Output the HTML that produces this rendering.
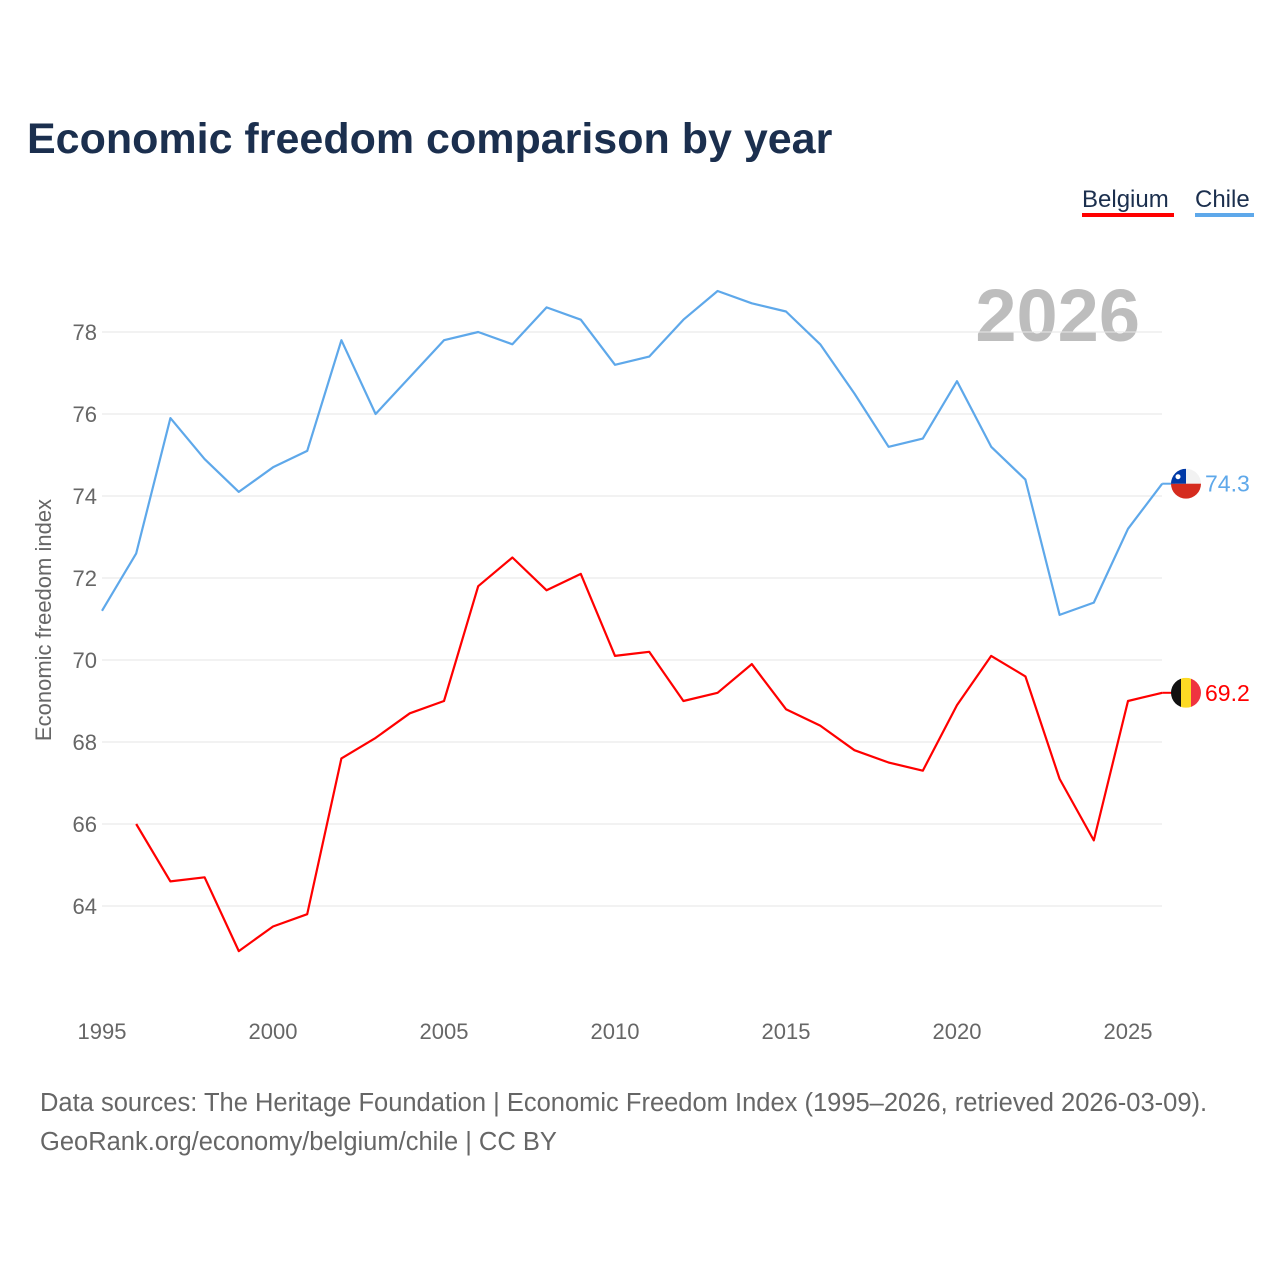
<!DOCTYPE html>
<html><head><meta charset="utf-8"><style>
body{margin:0;background:#fff;font-family:"Liberation Sans",sans-serif;}
svg text{font-family:"Liberation Sans",sans-serif;}
</style></head><body>
<svg width="1280" height="1280" viewBox="0 0 1280 1280">
<rect width="1280" height="1280" fill="#fff"/>
<text x="27" y="153" font-size="43" font-weight="bold" fill="#1b2f4e">Economic freedom comparison by year</text>
<g>
<text x="1082" y="207" font-size="24" fill="#1b2f4e">Belgium</text>
<rect x="1082" y="213" width="92" height="4" fill="#f00"/>
<text x="1195" y="207" font-size="24" fill="#1b2f4e">Chile</text>
<rect x="1195" y="213" width="59" height="4" fill="#5ea8ea"/>
</g>
<text x="1140" y="341" font-size="74" font-weight="bold" fill="#bdbdbd" text-anchor="end">2026</text>
<g id="grid"></g>
<g id="yt"></g>
<g id="xt"></g>
<text transform="translate(51,620) rotate(-90)" font-size="22" fill="#666" text-anchor="middle">Economic freedom index</text>
<g id="series"></g>
<text x="40" y="1111" font-size="25.5" fill="#666">Data sources: The Heritage Foundation | Economic Freedom Index (1995–2026, retrieved 2026-03-09).</text>
<text x="40" y="1150" font-size="25.5" fill="#666">GeoRank.org/economy/belgium/chile | CC BY</text>
</svg>
<script>
const years=[1995,1996,1997,1998,1999,2000,2001,2002,2003,2004,2005,2006,2007,2008,2009,2010,2011,2012,2013,2014,2015,2016,2017,2018,2019,2020,2021,2022,2023,2024,2025,2026];
const chile=[71.2,72.6,75.9,74.9,74.1,74.7,75.1,77.8,76.0,76.9,77.8,78.0,77.7,78.6,78.3,77.2,77.4,78.3,79.0,78.7,78.5,77.7,76.5,75.2,75.4,76.8,75.2,74.4,71.1,71.4,73.2,74.3];
const belgium=[null,66.0,64.6,64.7,62.9,63.5,63.8,67.6,68.1,68.7,69.0,71.8,72.5,71.7,72.1,70.1,70.2,69.0,69.2,69.9,68.8,68.4,67.8,67.5,67.3,68.9,70.1,69.6,67.1,65.6,69.0,69.2];
const yTicks=[64,66,68,70,72,74,76,78];
const xTicks=[1995,2000,2005,2010,2015,2020,2025];
const X=y=>102+(y-1995)*34.2;
const Y=v=>332+(78-v)*41;
const NS="http://www.w3.org/2000/svg";
function mk(t,a,p){const e=document.createElementNS(NS,t);for(const k in a)e.setAttribute(k,a[k]);p.appendChild(e);return e;}
const grid=document.getElementById('grid'),yt=document.getElementById('yt'),xt=document.getElementById('xt'),ser=document.getElementById('series');
yTicks.forEach(v=>{
 const l=mk('line',{x1:102,x2:1162,y1:Y(v),y2:Y(v),stroke:'#e6e6e6','stroke-width':1},grid);
 
 
 const t=mk('text',{x:97,y:Y(v)+8,'font-size':22,fill:'#666','text-anchor':'end'},yt);t.textContent=v;
 
 
});
xTicks.forEach(v=>{
 const t=mk('text',{x:X(v),y:1039,'font-size':22,fill:'#666','text-anchor':'middle'},xt);t.textContent=v;
 
 
});
function line(vals,color,name){
 let d='';vals.forEach((v,i)=>{if(v==null)return;d+=(d?'L':'M')+X(years[i])+','+Y(v);});
 const p=mk('path',{d:d,fill:'none',stroke:color,'stroke-width':2.2,'stroke-linejoin':'round'},ser);
 
 
 const last=vals[vals.length-1],cy=Y(last);
 const g=mk('g',{},ser);
 
 
 mk('line',{x1:X(2026),x2:1175,y1:cy,y2:cy,stroke:color,'stroke-width':2},g);
 const cp=mk('clipPath',{id:'c'+name},g);mk('circle',{cx:1186,cy:cy,r:15},cp);
 const f=mk('g',{'clip-path':'url(#c'+name+')'},g);
 if(name==='chile'){
  mk('rect',{x:1171,y:cy-15,width:30,height:15,fill:'#f2f2f2'},f);
  mk('rect',{x:1171,y:cy,width:30,height:15,fill:'#d52b1e'},f);
  mk('rect',{x:1171,y:cy-15,width:15,height:15,fill:'#0039a6'},f);
  mk('circle',{cx:1178,cy:cy-7,r:2.5,fill:'#fff'},f);
 }else{
  mk('rect',{x:1171,y:cy-15,width:10,height:30,fill:'#111'},f);
  mk('rect',{x:1181,y:cy-15,width:10,height:30,fill:'#fdda24'},f);
  mk('rect',{x:1191,y:cy-15,width:10,height:30,fill:'#ef3340'},f);
 }
 const t=mk('text',{x:1205,y:cy+8,'font-size':23,fill:color},g);t.textContent=last.toFixed(1);
}
line(chile,'#5ea8ea','chile');
line(belgium,'#f00','belgium');
</script>
</body></html>
